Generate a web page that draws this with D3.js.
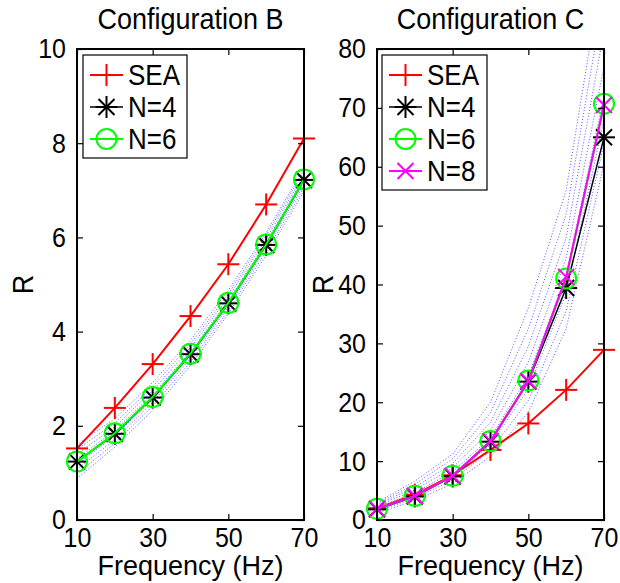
<!DOCTYPE html>
<html><head><meta charset="utf-8">
<script src="https://cdn.jsdelivr.net/npm/d3@7"></script>
<style>body{margin:0;background:#fff}svg{display:block}text{font-family:"Liberation Sans",Arial,sans-serif;fill:#000}</style>
</head><body><svg id="c" width="620" height="583"></svg>
<script>
const freqs = [10, 20, 30, 40, 50, 60, 70];
const xTicks = [10, 30, 50, 70];

// Configuration B
const bSEA = [1.52, 2.38, 3.31, 4.33, 5.43, 6.70, 8.10];
const bN4  = [1.24, 1.83, 2.60, 3.52, 4.60, 5.84, 7.22];
const bN6  = [1.24, 1.84, 2.61, 3.53, 4.61, 5.85, 7.23];
const bTicks = [0, 2, 4, 6, 8, 10];
const bBand = [
  [0.88, 1.55, 2.33, 3.28, 4.38, 5.62, 6.98],
  [0.98, 1.63, 2.42, 3.36, 4.45, 5.70, 7.05],
  [1.08, 1.71, 2.50, 3.44, 4.52, 5.77, 7.12],
  [1.18, 1.79, 2.56, 3.49, 4.57, 5.82, 7.18],
  [1.30, 1.90, 2.67, 3.58, 4.66, 5.90, 7.28],
  [1.40, 1.98, 2.75, 3.66, 4.73, 5.97, 7.34],
  [1.50, 2.06, 2.83, 3.74, 4.80, 6.04, 7.41],
  [1.60, 2.15, 2.92, 3.82, 4.88, 6.10, 7.47]
];

// Configuration C
const cSEA = [2.0, 4.3, 7.6, 11.9, 16.4, 22.1, 28.9];
const cN4  = [1.8, 4.0, 7.4, 13.3, 23.5, 39.4, 65.0];
const cN6  = [1.9, 4.1, 7.5, 13.4, 23.7, 41.0, 70.7];
const cN8  = [1.9, 4.1, 7.5, 13.4, 23.6, 41.3, 70.5];
const cTicks = [0, 10, 20, 30, 40, 50, 60, 70, 80];
const cBand = [
  [3.0, 6.6, 11.2, 20.0, 36.0, 56.0, 95.0],
  [2.8, 6.1, 10.4, 18.2, 32.5, 52.0, 89.0],
  [2.6, 5.6, 9.6, 16.6, 29.5, 48.0, 83.0],
  [2.4, 5.1, 8.9, 15.2, 26.8, 44.5, 77.0],
  [2.1, 4.6, 8.2, 14.0, 24.5, 41.5, 72.0],
  [1.8, 4.1, 7.4, 12.8, 22.3, 38.5, 68.0],
  [1.5, 3.7, 6.8, 11.8, 20.3, 35.5, 64.0],
  [1.2, 3.3, 6.2, 10.8, 18.3, 32.5, 60.5]
];

const panels = [
  {title: "Configuration B", x0: 77, x1: 304, yMax: 10, yTicks: bTicks, band: bBand,
   series: [{name: "SEA", v: bSEA, c: "#ff0000", m: "plus", w: 2},
            {name: "N=4", v: bN4, c: "#000000", m: "star", w: 1.5},
            {name: "N=6", v: bN6, c: "#00ff00", m: "circle", w: 2}],
   leg: {x: 83, y: 55, w: 104, h: 103}},
  {title: "Configuration C", x0: 377, x1: 604, yMax: 80, yTicks: cTicks, band: cBand,
   series: [{name: "SEA", v: cSEA, c: "#ff0000", m: "plus", w: 2},
            {name: "N=4", v: cN4, c: "#000000", m: "star", w: 1.5},
            {name: "N=6", v: cN6, c: "#00ff00", m: "circle", w: 2},
            {name: "N=8", v: cN8, c: "#ff00ff", m: "cross", w: 2}],
   leg: {x: 382, y: 55, w: 105, h: 135}}
];

const svg = d3.select("#c");
const yTop = 49, yBot = 520;
const STRETCH = 1.1;

function marker(g, type, cx, cy, color) {
  const a = 11, d = 8;
  if (type === "circle") {
    g.append("circle").attr("cx", cx).attr("cy", cy).attr("r", 10)
      .attr("fill", "none").attr("stroke", color).attr("stroke-width", 2);
    return;
  }
  const segs = [];
  if (type === "plus" || type === "star") { segs.push([cx - a, cy, cx + a, cy], [cx, cy - a, cx, cy + a]); }
  if (type === "star" || type === "cross") { segs.push([cx - d, cy - d, cx + d, cy + d], [cx - d, cy + d, cx + d, cy - d]); }
  segs.forEach(s => g.append("line").attr("x1", s[0]).attr("y1", s[1]).attr("x2", s[2]).attr("y2", s[3])
    .attr("stroke", color).attr("stroke-width", 2));
}

panels.forEach((p, i) => {
  const x = d3.scaleLinear().domain([10, 70]).range([p.x0, p.x1]);
  const y = d3.scaleLinear().domain([0, p.yMax]).range([yBot, yTop]);
  const g = svg.append("g");
  const clipId = "clip" + i;
  svg.append("clipPath").attr("id", clipId).append("rect")
    .attr("x", p.x0).attr("y", yTop).attr("width", p.x1 - p.x0).attr("height", yBot - yTop);

  const line = d3.line().x((d, j) => x(freqs[j])).y(d => y(d));

  const bandG = g.append("g").attr("clip-path", `url(#${clipId})`);
  p.band.forEach(b => bandG.append("path").attr("d", line(b)).attr("fill", "none")
    .attr("stroke", "#0000ff").attr("stroke-width", 0.9).attr("stroke-dasharray", "1,2").attr("opacity", 0.75));

  p.series.forEach(s => {
    g.append("path").attr("d", line(s.v)).attr("fill", "none").attr("stroke", s.c).attr("stroke-width", s.w);
    s.v.forEach((v, j) => marker(g, s.m, x(freqs[j]), y(v), s.c));
  });

  g.append("rect").attr("x", p.x0).attr("y", yTop).attr("width", p.x1 - p.x0).attr("height", yBot - yTop)
    .attr("fill", "none").attr("stroke", "#000").attr("stroke-width", 2);

  const axB = d3.axisBottom(x).tickValues(xTicks).tickSize(-6).tickPadding(8).tickFormat(d3.format("d"));
  const axT = d3.axisTop(x).tickValues(xTicks).tickSize(-6).tickFormat("");
  const axL = d3.axisLeft(y).tickValues(p.yTicks).tickSize(-6).tickPadding(11).tickFormat(d3.format("d"));
  const axR = d3.axisRight(y).tickValues(p.yTicks).tickSize(-6).tickFormat("");
  [[axB, `translate(0,${yBot})`], [axT, `translate(0,${yTop})`], [axL, `translate(${p.x0},0)`], [axR, `translate(${p.x1},0)`]]
    .forEach(([ax, tr]) => {
      const a = g.append("g").attr("transform", tr).call(ax);
      a.select(".domain").remove();
      a.selectAll("line").attr("stroke", "#000").attr("stroke-width", 1.2);
      a.selectAll("text").attr("font-size", 25).attr("font-family", '"Liberation Sans",Arial,sans-serif').attr("fill", "#000")
        .classed("stretch", true);
    });

  const cx = (p.x0 + p.x1) / 2;
  g.append("text").attr("class", "stretch").attr("x", cx).attr("y", 28).attr("text-anchor", "middle").attr("font-size", 27).text(p.title);
  g.append("text").attr("x", cx).attr("y", 575).attr("text-anchor", "middle").attr("font-size", 27).text("Frequency (Hz)");
  g.append("text").attr("class", "stretch").attr("transform", `translate(${p.x0 - 45},${(yTop + yBot) / 2}) rotate(-90)`)
    .attr("text-anchor", "middle").attr("font-size", 27).text("R");

  const L = p.leg;
  const lg = g.append("g");
  lg.append("rect").attr("x", L.x).attr("y", L.y).attr("width", L.w).attr("height", L.h)
    .attr("fill", "#fff").attr("stroke", "#000").attr("stroke-width", 1.2);
  p.series.forEach((s, j) => {
    const ey = L.y + 20 + j * 32;
    lg.append("line").attr("x1", L.x + 7).attr("x2", L.x + 40).attr("y1", ey).attr("y2", ey)
      .attr("stroke", s.c).attr("stroke-width", s.w);
    marker(lg, s.m, L.x + 23.5, ey, s.c);
    lg.append("text").attr("class", "stretch").attr("x", L.x + 45).attr("y", ey + 9.5).attr("font-size", 26).text(s.name);
  });
});

// Slight vertical stretch of glyphs, as in the reference rendering
svg.selectAll("text.stretch").each(function () {
  const b = this.getBBox();
  const cx = b.x + b.width / 2, cy = b.y + b.height / 2;
  const prev = this.getAttribute("transform") || "";
  this.setAttribute("transform", `${prev} translate(${cx},${cy}) scale(1,${STRETCH}) translate(${-cx},${-cy})`);
});
</script></body></html>
